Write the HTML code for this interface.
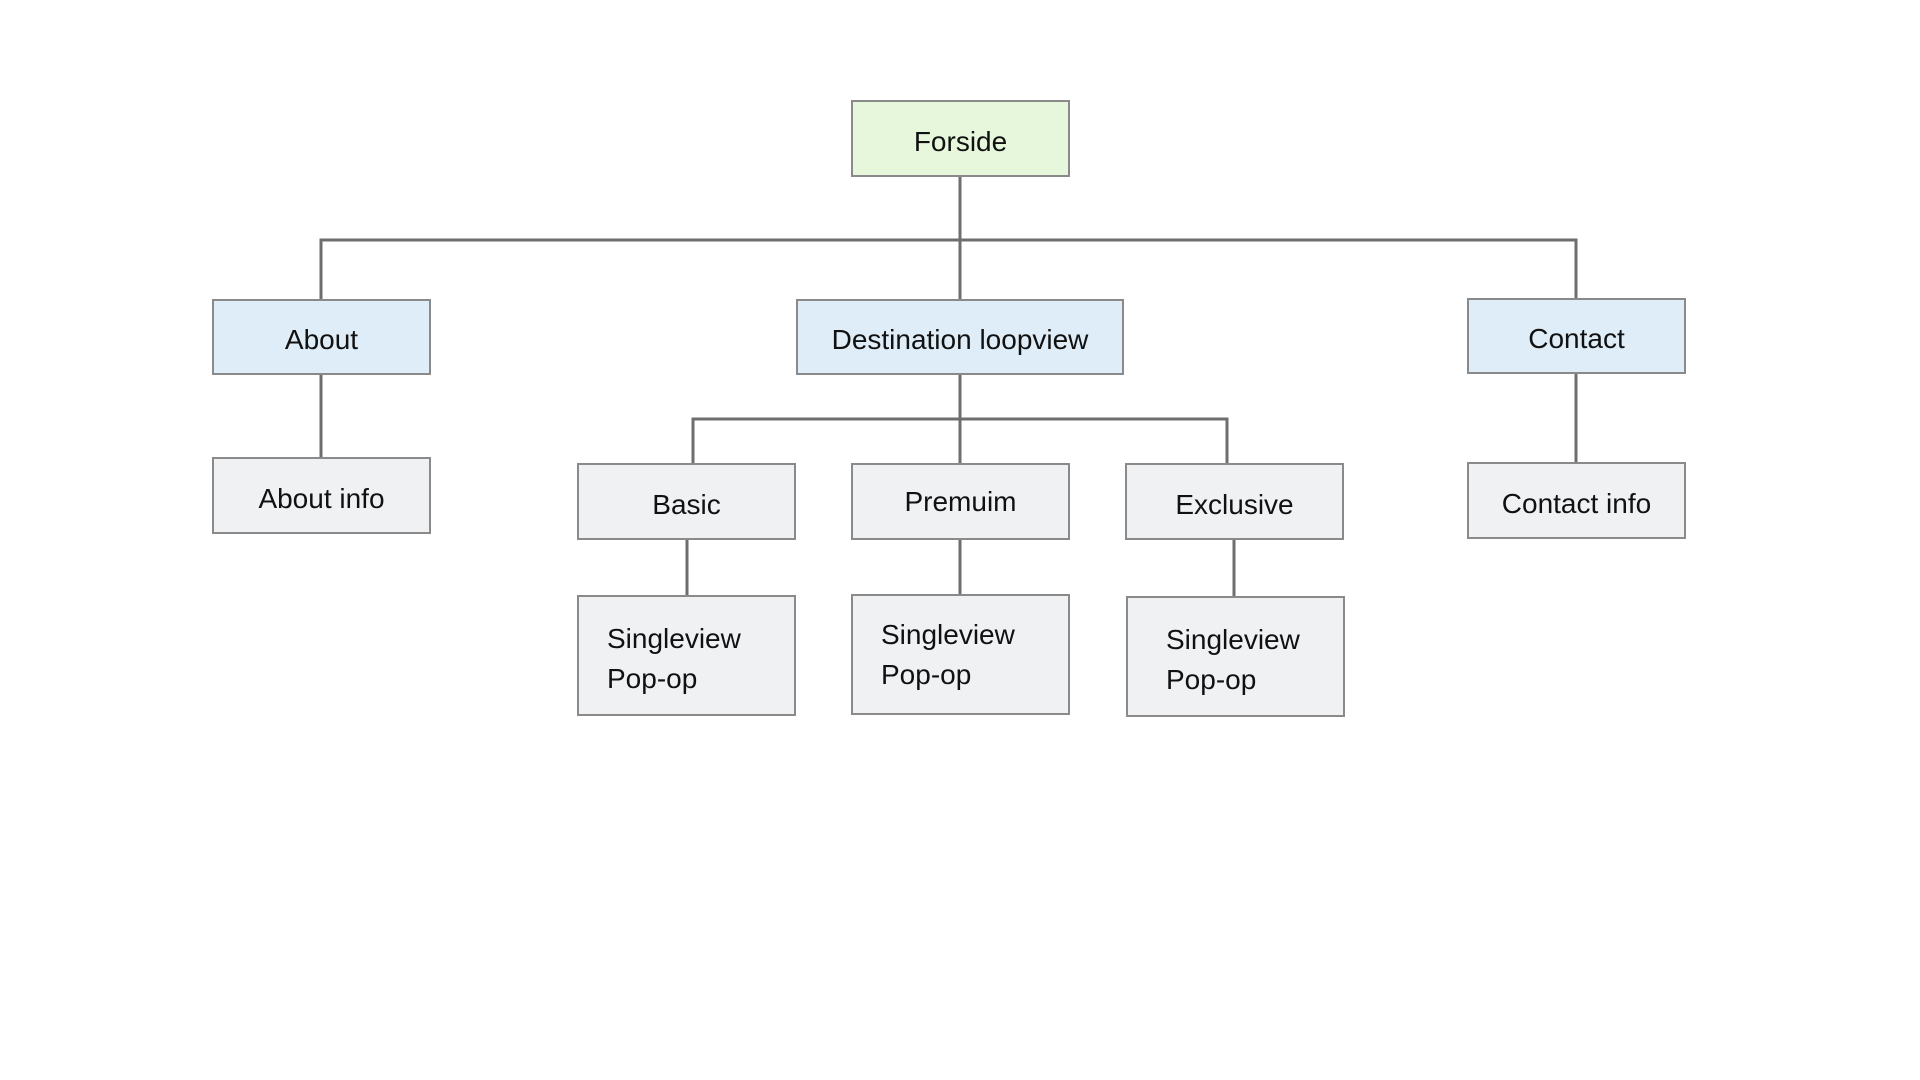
<!DOCTYPE html>
<html><head><meta charset="utf-8"><style>
body{margin:0;width:1920px;height:1080px;background:#fff;position:relative;overflow:hidden;font-family:"Liberation Sans",sans-serif;}
.b{position:absolute;box-sizing:border-box;border:2px solid #8a8a8a;background:#f0f1f3;display:flex;align-items:center;justify-content:center;font-size:28px;color:#111;padding-top:6px}
.g{background:#e6f7dc}.bl{background:#deedf8}
.m{justify-content:flex-start;padding-left:28px;line-height:40px}
svg{position:absolute;left:0;top:0}
</style></head><body>
<svg width="1920" height="1080"><g stroke="#6e6e6e" stroke-width="3" fill="none">
<path d="M960 177V299M321 299V240H1576V298M321 375V457M1576 373V462"/>
<path d="M960 375V463M693 463V419H1227V465M687 539V595M960 539V594M1234 539V596"/>
</g></svg>
<div class="b g" style="left:851px;top:100px;width:219px;height:77px">Forside</div>
<div class="b bl" style="left:212px;top:299px;width:219px;height:76px">About</div>
<div class="b bl" style="left:796px;top:299px;width:328px;height:76px">Destination loopview</div>
<div class="b bl" style="left:1467px;top:298px;width:219px;height:76px">Contact</div>
<div class="b" style="left:212px;top:457px;width:219px;height:77px">About info</div>
<div class="b" style="left:1467px;top:462px;width:219px;height:77px">Contact info</div>
<div class="b" style="left:577px;top:463px;width:219px;height:77px">Basic</div>
<div class="b" style="left:851px;top:463px;width:219px;height:77px;padding-top:0">Premuim</div>
<div class="b" style="left:1125px;top:463px;width:219px;height:77px">Exclusive</div>
<div class="b m" style="left:577px;top:595px;width:219px;height:121px">Singleview<br>Pop-op</div>
<div class="b m" style="left:851px;top:594px;width:219px;height:121px;padding-top:0">Singleview<br>Pop-op</div>
<div class="b m" style="left:1126px;top:596px;width:219px;height:121px;padding-left:38px">Singleview<br>Pop-op</div>
</body></html>
